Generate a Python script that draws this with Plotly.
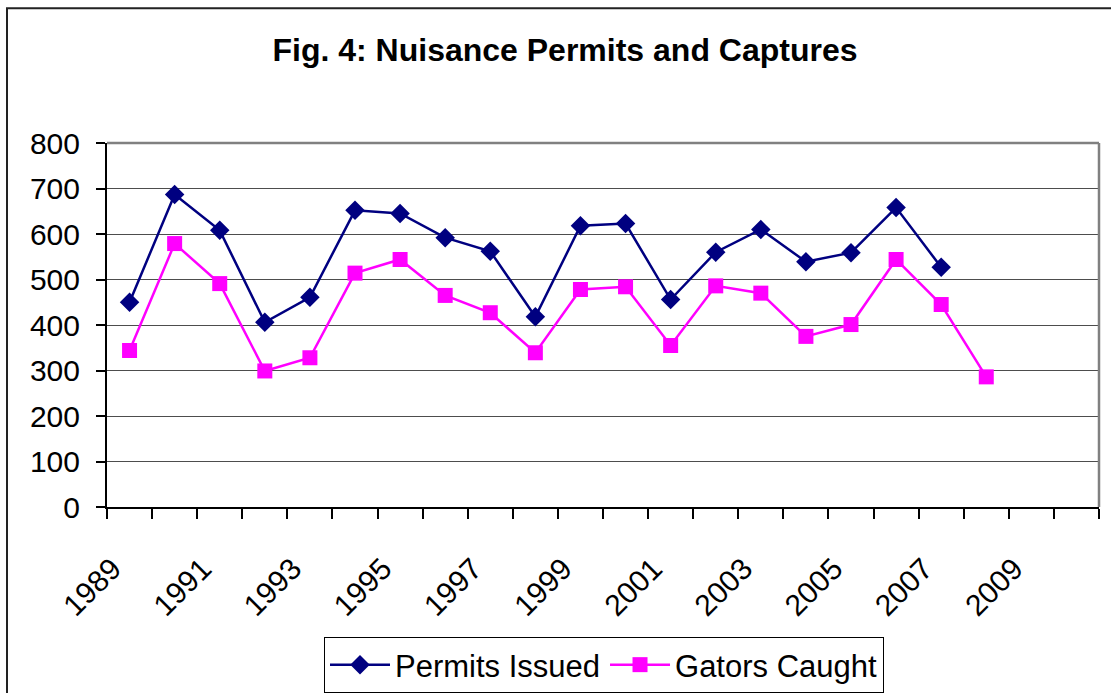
import plotly.graph_objects as go

years = list(range(1989, 2009))
permits_issued = [450, 687, 608, 406, 461, 652, 645, 592, 562, 418, 618, 623, 456, 560, 610, 539, 559, 658, 527, None]
gators_caught = [344, 579, 491, 299, 328, 514, 544, 465, 427, 339, 478, 484, 355, 486, 470, 375, 401, 544, 445, 286]
label_years = list(range(1989, 2010, 2))
label_text = [str(y) for y in label_years]
boundaries = [y - 0.5 for y in range(1989, 2012)]

FONT = "Liberation Sans, Arial, sans-serif"

fig = go.Figure()
fig.add_trace(go.Scatter(
    x=years, y=permits_issued, name="Permits Issued", mode="lines+markers",
    line=dict(color="#000080", width=2.5),
    marker=dict(symbol="diamond", size=15, color="#000080"),
))
fig.add_trace(go.Scatter(
    x=years, y=gators_caught, name="Gators Caught", mode="lines+markers",
    line=dict(color="#FF00FF", width=2.5),
    marker=dict(symbol="square", size=15, color="#FF00FF"),
))

W, H = 1111, 693
L, R, T, B = 107, 1099, 142.7, 506.7
pw, ph = R - L, B - T

def px(x):
    return (x - L) / pw

def py(y):
    return (B - y) / ph

label_shift = 0.38  # visual offset of rotated labels (Excel-like anchoring)

fig.update_layout(
    width=W, height=H, autosize=False,
    margin=dict(l=L, r=W - R, t=T, b=H - B, pad=0, autoexpand=False),
    paper_bgcolor="white", plot_bgcolor="white",
    font=dict(family=FONT, size=30, color="black"),
    title=dict(text="<b>Fig. 4: Nuisance Permits and Captures</b>",
               font=dict(family=FONT, size=32, color="black"),
               x=565 / W, xanchor="center", xref="container",
               y=1 - 50 / H, yanchor="middle", yref="container"),
    showlegend=True,
    legend=dict(orientation="h", xref="container", yref="container",
                x=604 / W, xanchor="center", y=1 - 665 / H, yanchor="middle",
                bordercolor="black", borderwidth=1, bgcolor="white",
                font=dict(family=FONT, size=31, color="black"),
                itemwidth=60, tracegroupgap=0),
    xaxis=dict(range=[1988.5, 2010.5], tickmode="array",
               tickvals=[y - label_shift for y in label_years], ticktext=label_text,
               tickangle=-45, ticks="", showgrid=False, zeroline=False,
               showline=True, linecolor="black", linewidth=2,
               ticklabelstandoff=30,
               minor=dict(tickmode="array", tickvals=boundaries, ticks="outside", ticklen=10,
                          tickcolor="black", tickwidth=1.5, showgrid=False)),
    yaxis=dict(range=[0, 800], tickmode="linear", tick0=0, dtick=100,
               ticks="outside", ticklen=9, tickcolor="black", tickwidth=1.5,
               showgrid=True, gridcolor="#4d4d4d", gridwidth=1, zeroline=False,
               showline=True, linecolor="black", linewidth=2, ticklabelstandoff=10),
    shapes=[
        dict(type="line", xref="paper", yref="paper", x0=0, x1=1, y0=1, y1=1,
             line=dict(color="#808080", width=2.5), layer="above"),
        dict(type="line", xref="paper", yref="paper", x0=1, x1=1, y0=0, y1=1,
             line=dict(color="#808080", width=2.5), layer="above"),
        dict(type="rect", xref="paper", yref="paper", x0=px(7), x1=px(1130), y0=py(720), y1=py(8),
             line=dict(color="#222222", width=2), layer="below"),
    ],
)

fig.write_html("out.html", config={"displayModeBar": False},
               post_script="document.body.style.margin='0';document.documentElement.style.overflow='hidden';")
